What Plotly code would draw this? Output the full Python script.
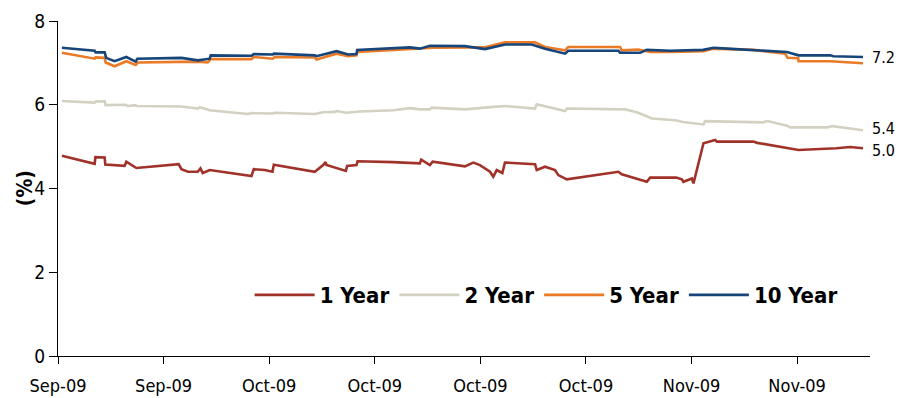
import pandas as pd
import plotly.graph_objects as go

START = "2009-09-11"

# days since 2009-09-11 and yields (%)
days_1y = [0.37, 3.47, 3.54, 4.42, 4.48, 6.31, 6.47, 7.42, 11.43, 11.69, 12.31, 13.23, 13.49, 13.71,
           14.37, 18.32, 18.54, 19.58, 20.31, 20.44, 24.32, 25.11, 25.34, 25.43, 27.26, 27.38, 28.27,
           28.37, 31.72, 34.27, 34.40, 35.22, 35.48, 38.54, 39.33, 39.96, 40.91, 41.22, 41.55, 42.08,
           42.33, 45.18, 45.34, 46.12, 47.07, 47.38, 48.18, 53.07, 53.39, 54.97, 55.76, 56.08, 58.54,
           59.08, 59.23, 60.03, 60.18, 61.13, 62.24, 62.40, 65.84, 66.22, 69.03, 70.13, 73.71, 75.03, 76.24]
vals_1y = [4.78, 4.59, 4.75, 4.74, 4.57, 4.54, 4.64, 4.49, 4.58, 4.46, 4.40, 4.40, 4.48, 4.37,
           4.44, 4.30, 4.46, 4.44, 4.40, 4.57, 4.40, 4.56, 4.63, 4.56, 4.42, 4.54, 4.56,
           4.65, 4.63, 4.60, 4.69, 4.56, 4.64, 4.53, 4.62, 4.56, 4.40, 4.28, 4.44, 4.37,
           4.62, 4.58, 4.44, 4.52, 4.44, 4.32, 4.22, 4.40, 4.34, 4.22, 4.16, 4.26, 4.26,
           4.22, 4.16, 4.24, 4.12, 5.08, 5.16, 5.12, 5.12, 5.09, 4.96, 4.92, 4.96, 4.99, 4.96]

days_2y = [0.37, 3.47, 3.61, 4.42, 4.51, 6.41, 6.60, 7.36, 7.45, 11.69, 13.26, 13.42, 14.37, 17.97,
           18.32, 20.34, 20.53, 24.32, 25.08, 26.22, 26.41, 27.26, 28.59, 31.74, 33.33, 34.27, 35.22,
           35.38, 38.54, 39.77, 41.22, 42.33, 45.18, 45.34, 48.02, 48.21, 53.71, 54.94, 56.24, 58.45,
           59.20, 61.13, 61.29, 66.79, 67.17, 69.03, 69.35, 72.85, 73.33, 76.24]
vals_2y = [6.09, 6.05, 6.08, 6.08, 5.99, 6.00, 5.97, 5.99, 5.97, 5.96, 5.91, 5.94, 5.87, 5.78,
           5.80, 5.79, 5.81, 5.78, 5.82, 5.83, 5.85, 5.81, 5.84, 5.87, 5.92, 5.89, 5.89,
           5.93, 5.89, 5.91, 5.95, 5.97, 5.91, 6.01, 5.85, 5.91, 5.89, 5.81, 5.67, 5.63,
           5.59, 5.53, 5.61, 5.58, 5.61, 5.50, 5.46, 5.46, 5.49, 5.39]

days_5y = [0.37, 3.47, 3.56, 4.42, 4.51, 5.36, 6.47, 7.36, 7.57, 13.23, 14.18, 14.46, 18.32, 18.54,
           20.34, 20.53, 24.32, 24.48, 26.38, 27.48, 28.27, 28.33, 31.43, 34.27, 35.54, 39.01, 40.44,
           42.33, 45.18, 46.12, 48.02, 48.33, 53.23, 53.39, 54.94, 56.08, 57.97, 61.10, 62.08, 65.87,
           68.87, 69.09, 70.10, 70.13, 73.14, 76.24]
vals_5y = [7.24, 7.10, 7.13, 7.12, 7.01, 6.92, 7.04, 6.95, 7.01, 7.03, 7.01, 7.09, 7.09, 7.14,
           7.10, 7.14, 7.13, 7.08, 7.22, 7.16, 7.18, 7.26, 7.30, 7.33, 7.36, 7.37, 7.37,
           7.49, 7.49, 7.38, 7.30, 7.38, 7.38, 7.30, 7.32, 7.26, 7.26, 7.28, 7.34, 7.31,
           7.22, 7.12, 7.11, 7.04, 7.04, 6.99]

days_10y = [0.37, 3.47, 3.56, 4.42, 4.56, 5.36, 6.47, 7.36, 7.52, 11.69, 13.23, 14.37, 14.46, 18.32,
            18.54, 20.34, 20.44, 24.32, 24.48, 26.38, 27.48, 28.27, 28.33, 33.33, 34.27, 35.22, 38.54,
            40.44, 42.33, 44.86, 46.12, 48.02, 48.33, 53.07, 53.23, 55.13, 55.76, 57.97, 61.10, 62.08,
            63.37, 65.87, 69.03, 70.13, 73.14, 73.43, 76.24]
vals_10y = [7.36, 7.29, 7.25, 7.25, 7.12, 7.04, 7.14, 7.03, 7.10, 7.12, 7.06, 7.10, 7.18, 7.17,
            7.21, 7.20, 7.22, 7.18, 7.16, 7.28, 7.20, 7.21, 7.31, 7.37, 7.34, 7.41, 7.40,
            7.33, 7.44, 7.44, 7.34, 7.22, 7.29, 7.29, 7.24, 7.24, 7.31, 7.29, 7.31, 7.36,
            7.34, 7.30, 7.26, 7.18, 7.18, 7.16, 7.14]

series_names = ["1 Year", "2 Year", "5 Year", "10 Year"]
series_colors = ["#A0322A", "#D3D1C1", "#EB7A26", "#16457A"]
end_labels = ["5.0", "5.4", None, "7.2"]
end_label_yshift = [-2, 2, 0, 0]

X_RANGE_DAYS = [0, 76.9]
Y_RANGE = [0, 8]

FONT = "'Liberation Sans Narrow', 'Arial Narrow', 'DejaVu Sans Condensed', sans-serif"


def to_dates(days):
    return pd.Timestamp(START) + pd.to_timedelta(days, unit="D")


fig = go.Figure()
all_days = [days_1y, days_2y, days_5y, days_10y]
all_vals = [vals_1y, vals_2y, vals_5y, vals_10y]
for name, color, d, v in zip(series_names, series_colors, all_days, all_vals):
    fig.add_trace(go.Scatter(x=to_dates(d), y=v, mode="lines", name=name,
                             line=dict(color=color, width=2.6)))

for lab, ys, d, v in zip(end_labels, end_label_yshift, all_days, all_vals):
    if lab is None:
        continue
    fig.add_annotation(x=to_dates([d[-1]])[0], y=v[-1], text=lab, showarrow=False,
                       xanchor="left", yanchor="middle", xshift=8, yshift=ys, borderpad=0,
                       font=dict(family=FONT, size=16, color="#000"))

fig.add_annotation(xref="paper", yref="paper", x=-0.041, y=0.5, text="<b>(%)</b>",
                   textangle=-90, showarrow=False, xanchor="center", yanchor="middle",
                   font=dict(family=FONT, size=21, color="#000"))

fig.update_layout(
    width=911, height=398,
    margin=dict(l=58, r=41, t=21, b=42, autoexpand=False),
    paper_bgcolor="white", plot_bgcolor="white",
    font=dict(family=FONT, color="#000"),
    showlegend=True,
    legend=dict(orientation="h", x=0.236, y=0.182, xanchor="left", yanchor="middle",
                font=dict(family=FONT, size=22, color="#000", weight="bold"),
                itemwidth=60, bgcolor="rgba(0,0,0,0)", tracegroupgap=0),
    xaxis=dict(type="date", range=list(to_dates(X_RANGE_DAYS)), automargin=False,
               tickmode="linear", tick0=START, dtick=10 * 86400000, tickformat="%b-%y",
               showgrid=False, zeroline=False, showline=True, linecolor="#000", linewidth=1,
               ticks="outside", ticklen=7, tickcolor="#000",
               ticklabelstandoff=6,
               tickfont=dict(family=FONT, size=18, color="#000")),
    yaxis=dict(range=Y_RANGE, dtick=2, tick0=0, automargin=False,
               showgrid=False, zeroline=False, showline=True, linecolor="#000", linewidth=1,
               ticks="outside", ticklen=8, tickcolor="#000",
               tickfont=dict(family=FONT, size=19, color="#000")),
)

fig.write_html("out.html")
